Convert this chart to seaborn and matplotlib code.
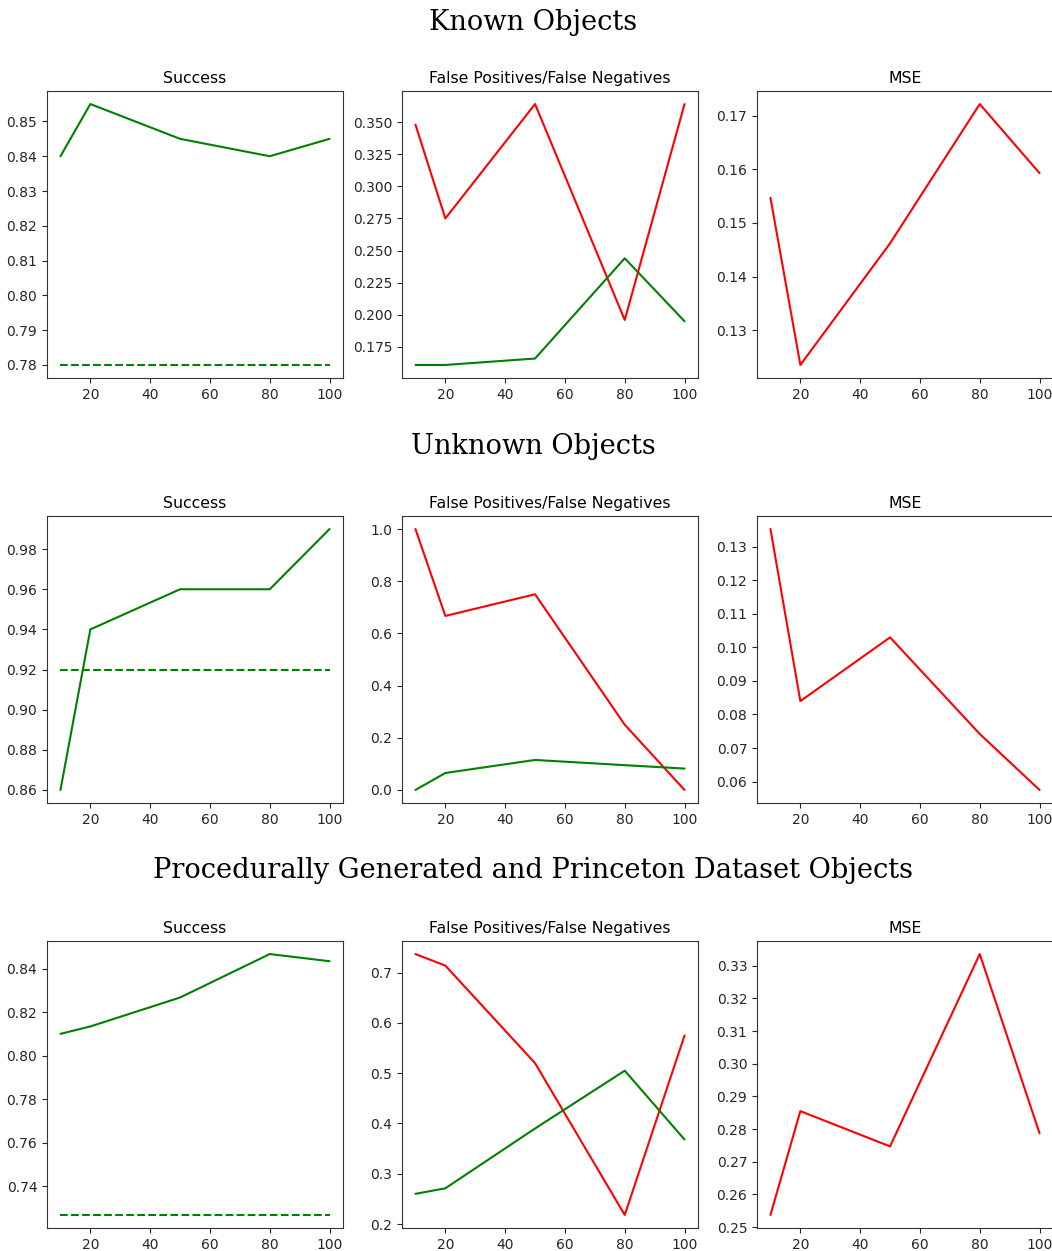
import matplotlib
matplotlib.use("Agg")
import matplotlib.pyplot as plt
import seaborn as sns

sns.set_style("ticks")
plt.rcParams['font.family'] = ['DejaVu Sans']
plt.rcParams['font.size'] = 10

x = [10, 20, 50, 80, 100]

row_titles = ["Known Objects", "Unknown Objects",
              "Procedurally Generated and Princeton Dataset Objects"]
col_titles = ["Success", "False Positives/False Negatives", "MSE"]

# Known objects
known_success = [0.84, 0.855, 0.845, 0.84, 0.845]
known_baseline = [0.78] * 5
known_fp = [0.348, 0.275, 0.364, 0.196, 0.364]
known_fn = [0.161, 0.161, 0.166, 0.244, 0.195]
known_mse = [0.1547, 0.1235, 0.1462, 0.1722, 0.1593]

# Unknown objects
unknown_success = [0.86, 0.94, 0.96, 0.96, 0.99]
unknown_baseline = [0.92] * 5
unknown_fp = [1.0, 0.667, 0.75, 0.25, 0.0]
unknown_fn = [0.0, 0.065, 0.115, 0.095, 0.082]
unknown_mse = [0.1353, 0.084, 0.103, 0.0742, 0.0575]

# Procedurally generated and Princeton objects
proc_success = [0.81, 0.8134, 0.8267, 0.8467, 0.8434]
proc_baseline = [0.7267] * 5
proc_fp = [0.737, 0.714, 0.52, 0.218, 0.575]
proc_fn = [0.26, 0.271, 0.39, 0.505, 0.368]
proc_mse = [0.2537, 0.2855, 0.2747, 0.3336, 0.2787]

rows = [
    (known_success, known_baseline, known_fp, known_fn, known_mse),
    (unknown_success, unknown_baseline, unknown_fp, unknown_fn, unknown_mse),
    (proc_success, proc_baseline, proc_fp, proc_fn, proc_mse),
]

GREEN = (0, 0.5, 0)
RED = (1, 0, 0)

fig = plt.figure(figsize=(10.52, 12.51), dpi=100)

lefts = [47 / 1052, 402 / 1052, 757 / 1052]
w = 296 / 1052
h = 287 / 1251
bottoms = [(1251 - 378) / 1251, (1251 - 803) / 1251, (1251 - 1228) / 1251]
title_ys = [1 - 22 / 1251, 1 - 447 / 1251, 1 - 871 / 1251]

for r, (succ, base, fp, fn, mse) in enumerate(rows):
    fig.text(0.507, title_ys[r], row_titles[r], ha="center", va="center",
             fontsize=19.6, family=["DejaVu Serif"], color="black")
    axes = [fig.add_axes([lefts[c], bottoms[r], w, h]) for c in range(3)]

    ax = axes[0]
    sns.lineplot(x=x, y=succ, color=GREEN, ax=ax, linewidth=1.5)
    sns.lineplot(x=x, y=base, color=GREEN, ax=ax, linewidth=1.5, linestyle="--")

    ax = axes[1]
    sns.lineplot(x=x, y=fp, color=RED, ax=ax, linewidth=1.5)
    sns.lineplot(x=x, y=fn, color=GREEN, ax=ax, linewidth=1.5)

    ax = axes[2]
    sns.lineplot(x=x, y=mse, color=RED, ax=ax, linewidth=1.5)

    for c, ax in enumerate(axes):
        ax.set_title(col_titles[c], fontsize=11.3, color="black")
        ax.set_xticks([20, 40, 60, 80, 100])
        for s in ax.spines.values():
            s.set_visible(True)
            s.set_color("#333333")
        ax.tick_params(labelsize=10)

fig.savefig("out.png", dpi=100)
